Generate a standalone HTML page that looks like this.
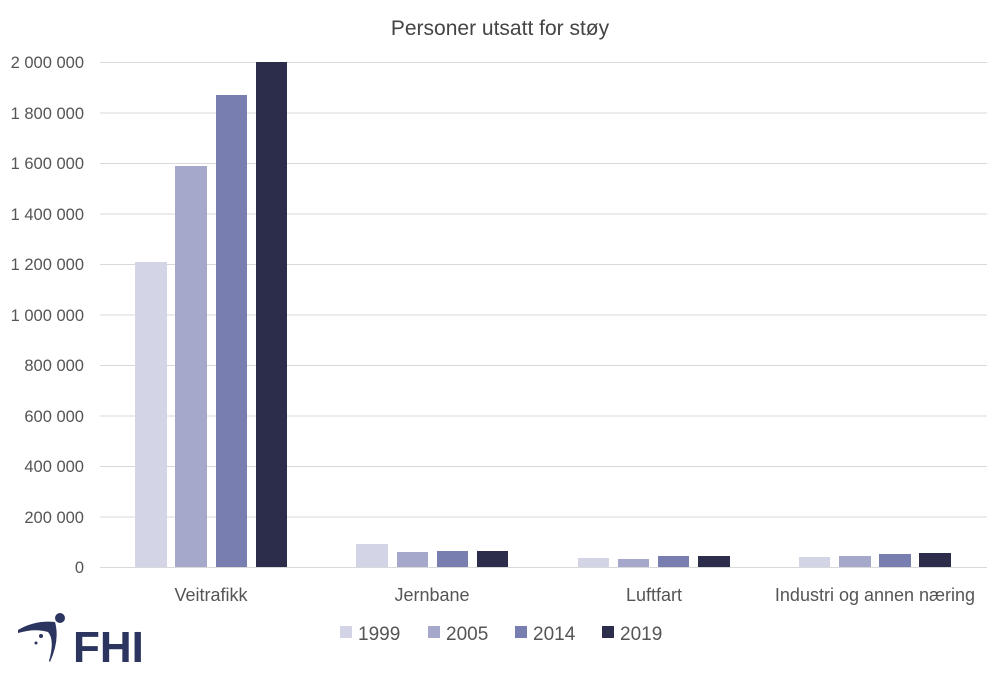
<!DOCTYPE html>
<html><head><meta charset="utf-8"><style>
body{margin:0;background:#fff;}
text{font-family:"Liberation Sans",sans-serif;}
</style></head><body>
<svg width="1000" height="680" xmlns="http://www.w3.org/2000/svg">
<rect width="1000" height="680" fill="#fff"/>
<text x="500" y="35" text-anchor="middle" font-size="21" fill="#444">Personer utsatt for støy</text>
<g stroke="#d9d9d9" stroke-width="1">
<line x1="100" x2="987" y1="62.5" y2="62.5"/><line x1="100" x2="987" y1="113" y2="113"/>
<line x1="100" x2="987" y1="163.5" y2="163.5"/><line x1="100" x2="987" y1="214" y2="214"/>
<line x1="100" x2="987" y1="264.5" y2="264.5"/><line x1="100" x2="987" y1="315" y2="315"/>
<line x1="100" x2="987" y1="365.5" y2="365.5"/><line x1="100" x2="987" y1="416" y2="416"/>
<line x1="100" x2="987" y1="466.5" y2="466.5"/><line x1="100" x2="987" y1="517" y2="517"/>
</g>
<g font-size="16.5" fill="#555" text-anchor="end">
<text x="84" y="68">2 000 000</text><text x="84" y="119">1 800 000</text>
<text x="84" y="169">1 600 000</text><text x="84" y="220">1 400 000</text>
<text x="84" y="270">1 200 000</text><text x="84" y="321">1 000 000</text>
<text x="84" y="371">800 000</text><text x="84" y="422">600 000</text>
<text x="84" y="472">400 000</text><text x="84" y="523">200 000</text>
<text x="84" y="573">0</text>
</g>
<g>
<rect x="135" y="262" width="32" height="305" fill="#d3d4e6"/>
<rect x="175" y="166" width="32" height="401" fill="#a6a8cb"/>
<rect x="216" y="95" width="31" height="472" fill="#787fb0"/>
<rect x="256" y="62" width="31" height="505" fill="#2c2d4a"/>
<rect x="356" y="544" width="32" height="23" fill="#d3d4e6"/>
<rect x="397" y="552" width="31" height="15" fill="#a6a8cb"/>
<rect x="437" y="551" width="31" height="16" fill="#787fb0"/>
<rect x="477" y="551" width="31" height="16" fill="#2c2d4a"/>
<rect x="578" y="558" width="31" height="9" fill="#d3d4e6"/>
<rect x="618" y="559" width="31" height="8" fill="#a6a8cb"/>
<rect x="658" y="556" width="31" height="11" fill="#787fb0"/>
<rect x="698" y="556" width="32" height="11" fill="#2c2d4a"/>
<rect x="799" y="557" width="31" height="10" fill="#d3d4e6"/>
<rect x="839" y="556" width="32" height="11" fill="#a6a8cb"/>
<rect x="879" y="554" width="32" height="13" fill="#787fb0"/>
<rect x="919" y="553" width="32" height="14" fill="#2c2d4a"/>
</g>
<line x1="100" x2="987" y1="567.5" y2="567.5" stroke="#d9d9d9"/>
<g font-size="18" fill="#555" text-anchor="middle">
<text x="211" y="601">Veitrafikk</text><text x="432" y="601">Jernbane</text>
<text x="654" y="601">Luftfart</text><text x="875" y="601">Industri og annen næring</text>
</g>
<g font-size="19" fill="#555">
<rect x="340" y="626" width="12" height="12" fill="#d3d4e6"/><text x="358" y="640">1999</text>
<rect x="428" y="626" width="12" height="12" fill="#a6a8cb"/><text x="446" y="640">2005</text>
<rect x="515" y="626" width="12" height="12" fill="#787fb0"/><text x="533" y="640">2014</text>
<rect x="602" y="626" width="12" height="12" fill="#2c2d4a"/><text x="620" y="640">2019</text>
</g>
<g fill="#2c3560">
<path d="M18 630 Q35 620 55 622 Q60 640 50 662 L49 661 Q55 640 48 632 Q35 628 18 633 Z"/>
<circle cx="60" cy="618" r="5"/>
<circle cx="41" cy="636" r="2"/><circle cx="36" cy="643" r="1.5"/>
<text x="73" y="662" font-size="44" font-weight="bold" fill="#2c3560">FHI</text>
</g>
</svg>
</body></html>
